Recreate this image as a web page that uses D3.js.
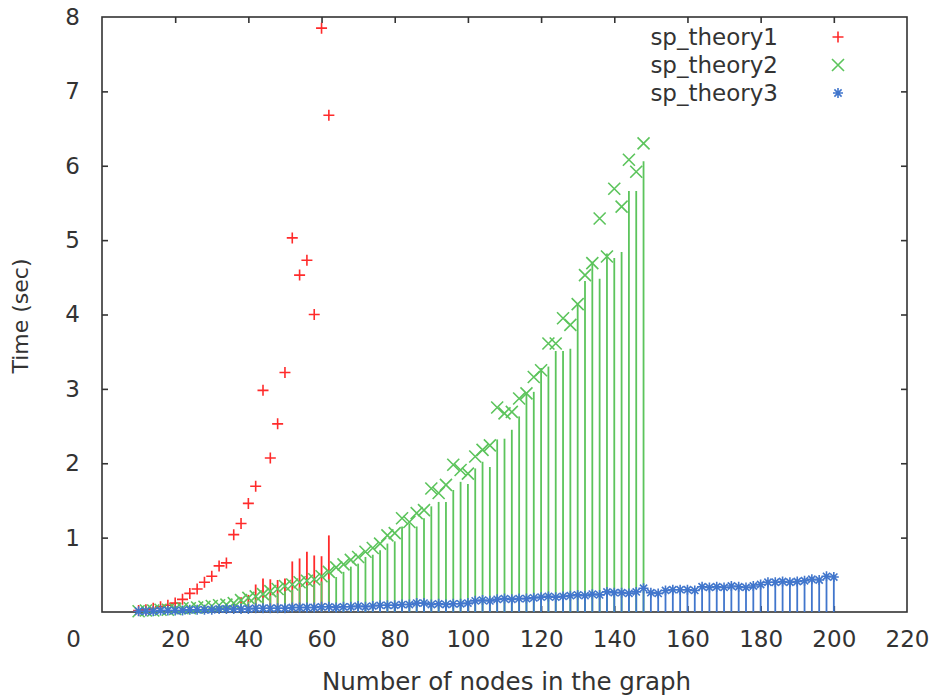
<!DOCTYPE html>
<html><head><meta charset="utf-8">
<script src="https://cdn.jsdelivr.net/npm/d3@7"></script>
<style>
body{margin:0;background:#fff}
svg{display:block}
text{font-family:"DejaVu Sans",sans-serif;fill:#333}
</style>
</head><body><svg id="c" width="933" height="698"></svg>
<script>
// ---- data ----
const xTicks = [0,20,40,60,80,100,120,140,160,180,200,220];
const yTicks = [1,2,3,4,5,6,7,8];
const seriesNames = ["sp_theory1","sp_theory2","sp_theory3"];

const nodes1 = [10,12,14,16,18,20,22,24,26,28,30,32,34,36,38,40,42,44,46,48,50,52,54,56,58,60,62];
const time1  = [0.02,0.03,0.05,0.07,0.09,0.12,0.17,0.25,0.31,0.40,0.48,0.62,0.66,1.04,1.19,1.46,1.69,2.98,2.07,2.53,3.22,5.03,4.53,4.73,4.00,7.85,6.68];
const imp1   = [0.01,0.01,0.02,0.02,0.03,0.04,0.05,0.06,0.07,0.08,0.09,0.10,0.11,0.12,0.20,0.23,0.37,0.45,0.44,0.43,0.45,0.68,0.72,0.81,0.76,0.75,1.03];

const nodes2 = [10,12,14,16,18,20,22,24,26,28,30,32,34,36,38,40,42,44,46,48,50,52,54,56,58,60,62,64,66,68,70,72,74,76,78,80,82,84,86,88,90,92,94,96,98,100,102,104,106,108,110,112,114,116,118,120,122,124,126,128,130,132,134,136,138,140,142,144,146,148];
const time2  = [0.01,0.02,0.02,0.03,0.03,0.04,0.05,0.05,0.06,0.07,0.08,0.09,0.10,0.12,0.16,0.19,0.21,0.24,0.28,0.31,0.35,0.37,0.40,0.42,0.44,0.48,0.54,0.60,0.64,0.70,0.74,0.81,0.86,0.92,1.03,1.06,1.26,1.21,1.33,1.37,1.66,1.60,1.71,1.98,1.91,1.86,2.09,2.18,2.24,2.75,2.67,2.69,2.87,2.94,3.16,3.25,3.61,3.61,3.95,3.86,4.14,4.53,4.69,5.29,4.78,5.69,5.45,6.08,5.92,6.30];
const imp2   = [0.01,0.01,0.02,0.02,0.03,0.03,0.04,0.04,0.05,0.06,0.07,0.08,0.09,0.10,0.12,0.14,0.17,0.19,0.22,0.25,0.28,0.30,0.33,0.36,0.38,0.41,0.44,0.47,0.54,0.61,0.65,0.74,0.77,0.83,0.92,0.95,1.15,1.19,1.15,1.26,1.42,1.48,1.48,1.64,1.75,1.72,1.93,2.02,1.95,2.32,2.33,2.45,2.63,2.94,2.96,3.28,3.30,3.51,3.51,3.54,4.14,4.45,4.71,4.48,4.82,4.76,4.84,5.66,5.66,6.06];

const nodes3 = [10,12,14,16,18,20,22,24,26,28,30,32,34,36,38,40,42,44,46,48,50,52,54,56,58,60,62,64,66,68,70,72,74,76,78,80,82,84,86,88,90,92,94,96,98,100,102,104,106,108,110,112,114,116,118,120,122,124,126,128,130,132,134,136,138,140,142,144,146,148,150,152,154,156,158,160,162,164,166,168,170,172,174,176,178,180,182,184,186,188,190,192,194,196,198,200];
const time3  = [0.01,0.01,0.01,0.02,0.02,0.02,0.02,0.03,0.03,0.03,0.03,0.04,0.04,0.04,0.04,0.04,0.05,0.05,0.05,0.05,0.05,0.06,0.06,0.06,0.06,0.07,0.07,0.06,0.07,0.07,0.08,0.07,0.08,0.09,0.09,0.09,0.10,0.10,0.12,0.12,0.10,0.11,0.10,0.11,0.11,0.12,0.15,0.16,0.15,0.17,0.18,0.17,0.18,0.18,0.19,0.20,0.21,0.20,0.21,0.22,0.23,0.22,0.24,0.23,0.27,0.26,0.26,0.25,0.27,0.32,0.26,0.25,0.29,0.30,0.30,0.30,0.29,0.34,0.33,0.34,0.33,0.35,0.34,0.33,0.35,0.37,0.40,0.40,0.41,0.40,0.41,0.42,0.44,0.43,0.48,0.47];
const imp3   = time3;

const colors = ["#ff2b2b","#5cc45c","#4176cc"];

// ---- layout ----
const W = 933, H = 698;
const L = 102, R = 907, T = 17, B = 612;
const svg = d3.select("#c");
svg.append("rect").attr("width",W).attr("height",H).attr("fill","#fff");

const x = d3.scaleLinear().domain([0,220]).range([L,R]);
const y = d3.scaleLinear().domain([0,8]).range([B,T]);

const FS = 23;
const axisColor = "#333";

function styleAxis(g){
  g.select(".domain").remove();
  g.selectAll(".tick line").attr("stroke",axisColor).attr("stroke-width",1.6);
  g.selectAll("text").attr("font-size",FS).attr("fill","#383838").attr("font-family","DejaVu Sans, sans-serif");
}

// bottom axis
const gB = svg.append("g").attr("transform",`translate(0,${B})`)
  .call(d3.axisBottom(x).tickValues(xTicks).tickSizeInner(-6).tickSizeOuter(0).tickPadding(19));
styleAxis(gB);
gB.selectAll(".tick").filter(d=>d===0).select("text").attr("x",-29);
gB.selectAll(".tick").filter(d=>d===0||d===220).select("line").remove();

// top axis (mirror ticks)
const gT = svg.append("g").attr("transform",`translate(0,${T})`)
  .call(d3.axisTop(x).tickValues(xTicks.filter(d=>d>0&&d<220)).tickSizeInner(-6).tickSizeOuter(0).tickFormat(""));
styleAxis(gT);

// left axis
const gL = svg.append("g").attr("transform",`translate(${L},0)`)
  .call(d3.axisLeft(y).tickValues(yTicks).tickSizeInner(-6).tickSizeOuter(0).tickPadding(22));
styleAxis(gL);
gL.selectAll(".tick").filter(d=>d===8).select("line").remove();

// right axis (mirror ticks)
const gR = svg.append("g").attr("transform",`translate(${R},0)`)
  .call(d3.axisRight(y).tickValues(yTicks.filter(d=>d<8)).tickSizeInner(-6).tickSizeOuter(0).tickFormat(""));
styleAxis(gR);

// border
svg.append("rect").attr("x",L).attr("y",T).attr("width",R-L).attr("height",B-T)
  .attr("fill","none").attr("stroke",axisColor).attr("stroke-width",1.6);

// axis titles
svg.append("text").attr("x",(L+R)/2+2).attr("y",690).attr("text-anchor","middle")
  .attr("font-size",24.5).attr("fill","#383838").text("Number of nodes in the graph");
svg.append("text").attr("transform",`translate(28,316) rotate(-90)`).attr("text-anchor","middle")
  .attr("font-size",22).attr("fill","#383838").text("Time (sec)");

// ---- markers ----
const markerPaths = [
  "M-5.5,0H5.5M0,-5.5V5.5",
  "M-6,-6L6,6M-6,6L6,-6",
  "M-5,0H5M0,-5V5M-3.6,-3.6L3.6,3.6M-3.6,3.6L3.6,-3.6"
];

const plotG = svg.append("g");
const series = [
  {nodes:nodes1, t:time1, imp:imp1},
  {nodes:nodes2, t:time2, imp:imp2},
  {nodes:nodes3, t:time3, imp:imp3}
];
series.forEach((s,i)=>{
  const g = plotG.append("g");
  g.selectAll("line.imp").data(s.nodes).join("line").attr("class","imp")
    .attr("x1",d=>x(d)).attr("x2",d=>x(d))
    .attr("y1",y(0)).attr("y2",(d,k)=>y(s.imp[k]))
    .attr("stroke",colors[i]).attr("stroke-width",1.8);
  g.selectAll("path.pt").data(s.nodes).join("path").attr("class","pt")
    .attr("transform",(d,k)=>`translate(${x(d)},${y(s.t[k])})`)
    .attr("d",markerPaths[i]).attr("fill","none")
    .attr("stroke",colors[i]).attr("stroke-width",1.6);
});

// ---- legend ----
const legendY = [45,73,101];
const lg = svg.append("g");
seriesNames.forEach((n,i)=>{
  lg.append("text").attr("x",778).attr("y",legendY[i]).attr("text-anchor","end")
    .attr("font-size",FS).attr("fill","#383838").text(n);
  lg.append("path").attr("transform",`translate(838,${legendY[i]-8})`)
    .attr("d",markerPaths[i]).attr("fill","none").attr("stroke",colors[i]).attr("stroke-width",1.6);
});
</script>
</body></html>
